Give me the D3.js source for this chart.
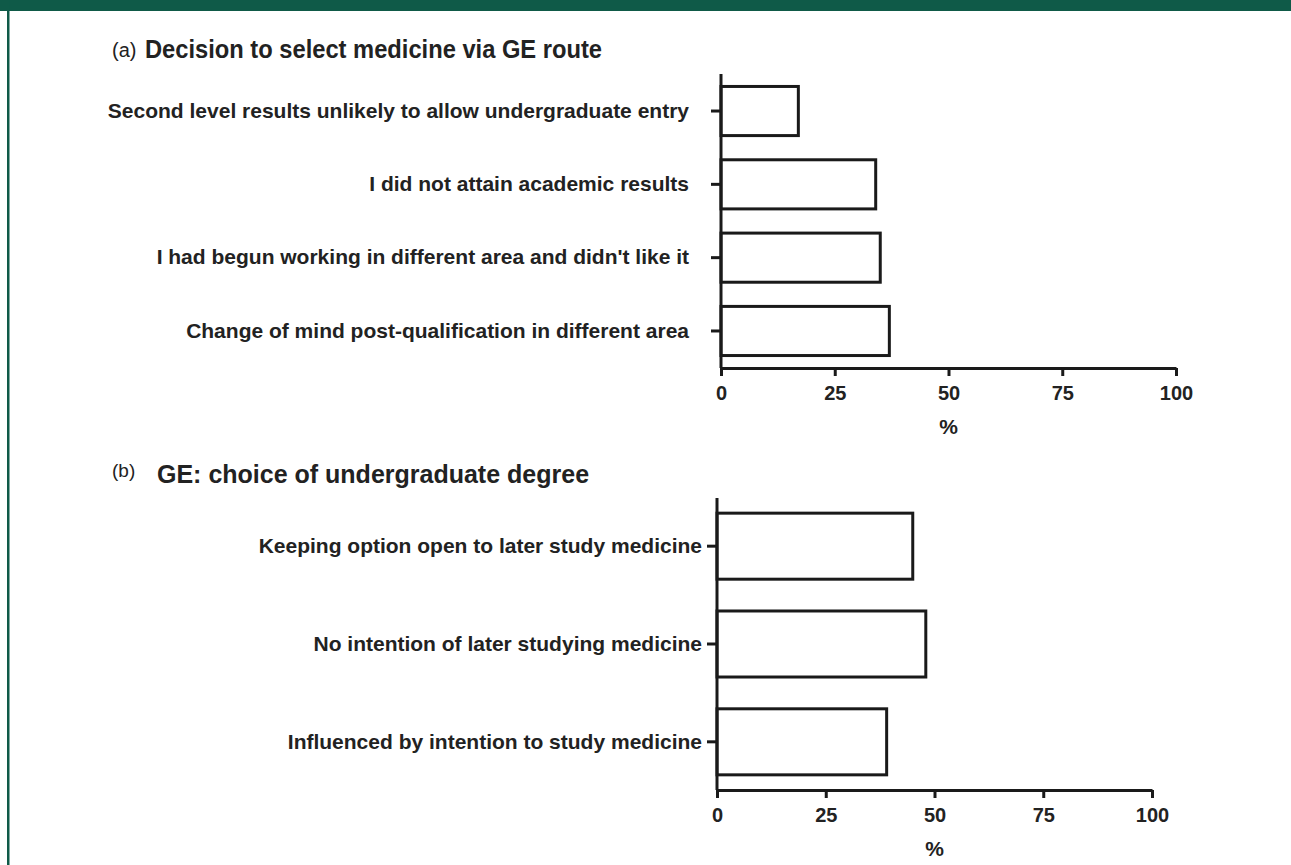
<!DOCTYPE html>
<html>
<head>
<meta charset="utf-8">
<script src="https://cdn.jsdelivr.net/npm/d3@7"></script>
<style>
    body { margin: 0; background: #fff; }
    svg { display: block; }
    text { font-family: "Liberation Sans", Arial, sans-serif; fill: #222; }
</style>
</head>
<body>
<svg id="chart" width="1291" height="865"></svg>
<script>
// panel (a)
var catsA = [
    "Second level results unlikely to allow undergraduate entry",
    "I did not attain academic results",
    "I had begun working in different area and didn't like it",
    "Change of mind post-qualification in different area"
];
var valsA = [17, 34, 35, 37];

// panel (b)
var catsB = [
    "Keeping option open to later study medicine",
    "No intention of later studying medicine",
    "Influenced by intention to study medicine"
];
var valsB = [45, 48, 39];

var xTicks = [0, 25, 50, 75, 100];

var svg = d3.select("#chart");

// green frame
svg.append("rect").attr("x", 0).attr("y", 0).attr("width", 1291).attr("height", 11).attr("fill", "#0f5a48");
svg.append("rect").attr("x", 7).attr("y", 0).attr("width", 2.5).attr("height", 865).attr("fill", "#0f5a48");

function drawPanel(cfg) {
    var x = d3.scaleLinear().domain([0, 100]).range([cfg.x0, cfg.x1]);
    var y = d3.scaleBand()
        .domain(cfg.cats)
        .range([cfg.y0, cfg.y1])
        .paddingInner(cfg.pin)
        .paddingOuter(cfg.pout);

    // title
    svg.append("text")
        .attr("x", 112).attr("y", cfg.tagY)
        .style("font-size", cfg.tagSize + "px")
        .text(cfg.tag);
    var t = svg.append("text")
        .attr("x", cfg.titleX).attr("y", cfg.titleY)
        .style("font-size", "25px")
        .style("font-weight", "bold")
        .text(cfg.title);
    if (cfg.titleW) t.attr("textLength", cfg.titleW).attr("lengthAdjust", "spacingAndGlyphs");

    // bars
    svg.selectAll(".bar" + cfg.id)
        .data(cfg.vals)
        .enter().append("rect")
        .attr("class", "bar" + cfg.id)
        .attr("x", x(0))
        .attr("y", function (d, i) { return y(cfg.cats[i]); })
        .attr("width", function (d) { return x(d) - x(0); })
        .attr("height", y.bandwidth())
        .attr("fill", "#fff")
        .attr("stroke", "#1a1a1a")
        .attr("stroke-width", 3);

    // x axis
    var gx = svg.append("g")
        .attr("transform", "translate(0," + cfg.y1 + ")")
        .call(d3.axisBottom(x).tickValues(xTicks).tickSizeInner(8).tickSizeOuter(0).tickPadding(10));
    gx.selectAll("path, line").attr("stroke", "#1a1a1a").attr("stroke-width", 3);
    gx.selectAll("text")
        .style("font-family", "'Liberation Sans', Arial, sans-serif")
        .style("font-size", "20px")
        .style("font-weight", "bold")
        .attr("fill", "#222");

    // y axis
    var gy = svg.append("g")
        .attr("transform", "translate(" + cfg.x0 + ",0)")
        .call(d3.axisLeft(y).tickSizeInner(10).tickSizeOuter(0).tickPadding(cfg.labPad));
    gy.selectAll("path, line").attr("stroke", "#1a1a1a").attr("stroke-width", 3);
    gy.select(".domain").attr("d", "M0," + cfg.yTop + "V" + cfg.y1);
    gy.selectAll("text")
        .style("font-family", "'Liberation Sans', Arial, sans-serif")
        .style("font-size", "21px")
        .style("font-weight", "bold")
        .attr("fill", "#222");

    // axis title
    svg.append("text")
        .attr("x", (cfg.x0 + cfg.x1) / 2)
        .attr("y", cfg.y1 + 66)
        .attr("text-anchor", "middle")
        .style("font-size", "21px")
        .style("font-weight", "bold")
        .text("%");
}

drawPanel({
    id: "a", cats: catsA, vals: valsA,
    x0: 721, x1: 1176, y0: 74, y1: 368, yTop: 74,
    pin: 0.33, pout: 0.17, labPad: 22,
    tag: "(a)", tagY: 57, tagSize: 20,
    title: "Decision to select medicine via GE route", titleX: 145, titleY: 58, titleW: 457
});

drawPanel({
    id: "b", cats: catsB, vals: valsB,
    x0: 717, x1: 1152, y0: 498, y1: 790, yTop: 498,
    pin: 0.325, pout: 0.155, labPad: 5,
    tag: "(b)", tagY: 477, tagSize: 19,
    title: "GE: choice of undergraduate degree", titleX: 157, titleY: 483
});
</script>
</body>
</html>
